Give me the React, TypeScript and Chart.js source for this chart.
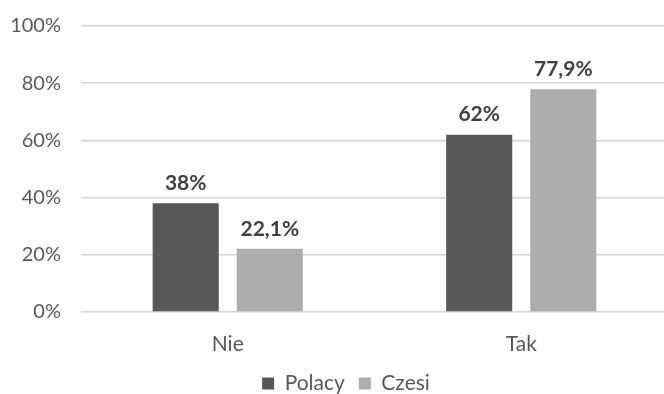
import React, { useEffect, useRef } from "react";
import { Chart, registerables } from "chart.js";
Chart.register(...registerables);

const categories = ["Nie", "Tak"];
const polacy = [38, 62];
const czesi = [22.1, 77.9];
const polacyLabels = ["38%", "62%"];
const czesiLabels = ["22,1%", "77,9%"];
const seriesNames = ["Polacy", "Czesi"];

const FONT = "Lato, 'Open Sans', sans-serif";

const valueLabels = {
  id: "valueLabels",
  afterDatasetsDraw(chart: any) {
    const ctx = chart.ctx;
    ctx.save();
    ctx.font = `bold 21px ${FONT}`;
    ctx.fillStyle = "#404040";
    ctx.textAlign = "center";
    ctx.textBaseline = "middle";
    const lbls = [polacyLabels, czesiLabels];
    chart.data.datasets.forEach((ds: any, di: number) => {
      const meta = chart.getDatasetMeta(di);
      meta.data.forEach((bar: any, i: number) => {
        ctx.fillText(lbls[di][i], bar.x, bar.y - 20);
      });
    });
    ctx.restore();
  },
};

const shiftLegend = {
  id: "shiftLegend",
  afterLayout(chart: any) {
    const lg = chart.legend;
    if (lg) {
      lg.left += 12;
      lg.right += 12;
    }
  },
};

export default function App() {
  const ref = useRef<HTMLCanvasElement>(null);
  useEffect(() => {
    document.body.style.margin = "0";
    document.body.style.overflow = "hidden";
    const chart = new Chart(ref.current!, {
      type: "bar",
      data: {
        labels: categories,
        datasets: [
          {
            label: seriesNames[0],
            data: polacy,
            backgroundColor: "#575757",
            barPercentage: 0.786,
            categoryPercentage: 0.573,
          },
          {
            label: seriesNames[1],
            data: czesi,
            backgroundColor: "#adadad",
            barPercentage: 0.786,
            categoryPercentage: 0.573,
          },
        ],
      },
      options: {
        animation: false,
        responsive: false,
        maintainAspectRatio: false,
        layout: { padding: { top: 26, left: 0, right: 0, bottom: 0 } },
        plugins: {
          legend: {
            position: "bottom",
            labels: {
              boxWidth: 12,
              boxHeight: 12,
              color: "#595959",
              font: { family: FONT, size: 21 },
              padding: 14,
            },
          },
          tooltip: { enabled: false },
        },
        scales: {
          x: {
            grid: { display: false },
            border: { display: false },
            afterFit: (s: any) => {
              s.height = 47;
            },
            ticks: { color: "#595959", font: { family: FONT, size: 21 }, padding: 12 },
          },
          y: {
            min: 0,
            max: 100,
            afterFit: (s: any) => {
              s.width = 81;
              s.paddingTop = 0;
              s.paddingBottom = 0;
            },
            ticks: {
              stepSize: 20,
              color: "#595959",
              font: { family: FONT, size: 20 },
              padding: 20,
              callback: (v: any) => v + "%",
            },
            grid: { color: "#d4d4d4", lineWidth: 1.5, drawTicks: false },
            border: { display: false },
          },
        },
      },
      plugins: [valueLabels, shiftLegend],
    });
    return () => chart.destroy();
  }, []);
  return (
    <div style={{ width: 664, height: 394, overflow: "hidden", position: "relative" }}>
      <canvas ref={ref} width={668} height={404} style={{ display: "block" }} />
    </div>
  );
}
